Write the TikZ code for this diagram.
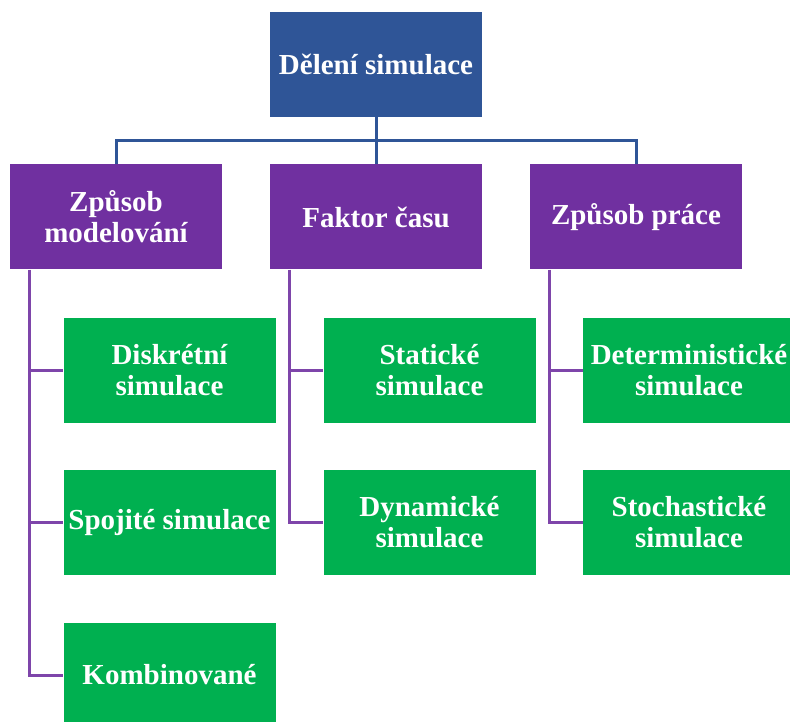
\documentclass[tikz,border=0pt]{standalone}
\usepackage{fontspec}
\setmainfont{Liberation Serif}
\usepackage{xcolor}
\usepackage{tikz}
\usetikzlibrary{calc}
\definecolor{headblue}{HTML}{2F5597}
\definecolor{groupviolet}{HTML}{7030A0}
\definecolor{leafgreen}{HTML}{00B050}
\tikzset{
  base-box/.style={minimum width=212pt, minimum height=105pt, inner sep=2pt,
    align=center, text=white, font=\fontsize{29}{31}\selectfont\bfseries},
  head-box/.style={base-box, fill=headblue},
  group-box/.style={base-box, fill=groupviolet},
  leaf-box/.style={base-box, fill=leafgreen},
  head-line/.style={draw=headblue, line width=3pt},
  group-line/.style={draw=groupviolet!90!white, line width=3pt}
}
\begin{document}
\begin{tikzpicture}[x=1pt, y=-1pt]
\useasboundingbox (0,0) rectangle (790,722);

% Root
\node[head-box] (root) at (376, 64.5) {D\v{e}len\'{\i} simulace};

% Groups
\node[group-box] (model) at (116, 217) {Zp\r{u}sob\\modelov\'an\'{\i}};
\node[group-box] (time)  at (376, 217) {Faktor \v{c}asu};
\node[group-box] (work)  at (636, 217) {Zp\r{u}sob pr\'ace};

% Leaves
\node[leaf-box] (discrete) at (169.5, 370)   {Diskr\'etn\'{\i}\\simulace};
\node[leaf-box] (contin)   at (169.5, 522.5) {Spojit\'e simulace};
\node[leaf-box] (combined) at (169.5, 675)   {Kombinovan\'e};
\node[leaf-box] (static)   at (429.5, 370)   {Statick\'e\\simulace};
\node[leaf-box] (dynamic)  at (429.5, 522.5) {Dynamick\'e\\simulace};
\node[leaf-box] (determ)   at (689, 370)     {Deterministick\'e\\simulace};
\node[leaf-box] (stoch)    at (689, 522.5)   {Stochastick\'e\\simulace};

% Root to groups
\coordinate (bus) at ($(root.south)!0.5!(time.north)$);
\draw[head-line] (root.south) -- (time.north);
\draw[head-line] (model.north) |- (bus) -| (work.north);

% Groups to leaves
\draw[group-line] ([xshift=20pt]model.south west) |- (combined.west);
\draw[group-line] ([xshift=20pt]model.south west |- discrete.west) -- (discrete.west);
\draw[group-line] ([xshift=20pt]model.south west |- contin.west) -- (contin.west);
\draw[group-line] ([xshift=20pt]time.south west) |- (dynamic.west);
\draw[group-line] ([xshift=20pt]time.south west |- static.west) -- (static.west);
\draw[group-line] ([xshift=20pt]work.south west) |- (stoch.west);
\draw[group-line] ([xshift=20pt]work.south west |- determ.west) -- (determ.west);
\end{tikzpicture}
\end{document}
